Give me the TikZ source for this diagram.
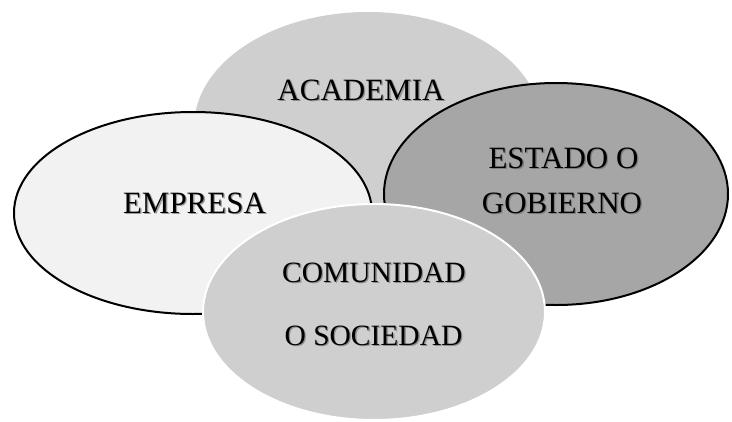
\documentclass[tikz,border=0pt]{standalone}
\usepackage{fontspec}
\setmainfont{Liberation Serif}
\definecolor{midgray}{RGB}{208,207,208}
\definecolor{lightgray2}{RGB}{242,242,242}
\definecolor{darkgray2}{RGB}{166,166,166}
\definecolor{shadowgray}{RGB}{100,100,100}
\tikzset{
  blacked/.style={draw=black, line width=2pt},
  whiteed/.style={draw=white, line width=2pt},
  lbl/.style={anchor=base, inner sep=0pt, font=\fontsize{31}{31}\selectfont},
  lblsm/.style={anchor=base, inner sep=0pt, font=\fontsize{29.5}{29.5}\selectfont},
  shd/.style={text=shadowgray, opacity=0.6}
}
\newcommand{\shtext}[5]{% style, name, x, y, text
  \node[#1, shd] (#2s) at (#3+1.3, #4+1.3) {#5};
  \node[#1] (#2) at (#3, #4) {#5};
}
\begin{document}
\begin{tikzpicture}[x=1pt, y=-1pt]
\useasboundingbox[fill=white] (0,0) rectangle (732,421);
% ACADEMIA
\path[fill=midgray] (368,127) ellipse [x radius=174, y radius=115];
% EMPRESA
\path[fill=lightgray2, blacked] (193,213) ellipse [x radius=179, y radius=101];
% ESTADO
\path[fill=darkgray2, blacked] (556,194) ellipse [x radius=172, y radius=111];
% COMUNIDAD
\path[fill=midgray, whiteed] (374,312) ellipse [x radius=171, y radius=108];
% texts
\shtext{lbl}{aca}{361}{100}{ACADEMIA}
\shtext{lbl}{emp}{194.5}{213}{EMPRESA}
\shtext{lbl}{est}{563.5}{168}{ESTADO O}
\shtext{lbl}{gob}{562}{213}{GOBIERNO}
\shtext{lblsm}{com}{374}{282}{COMUNIDAD}
\shtext{lblsm}{soc}{373.5}{345}{O SOCIEDAD}
\end{tikzpicture}
\end{document}
